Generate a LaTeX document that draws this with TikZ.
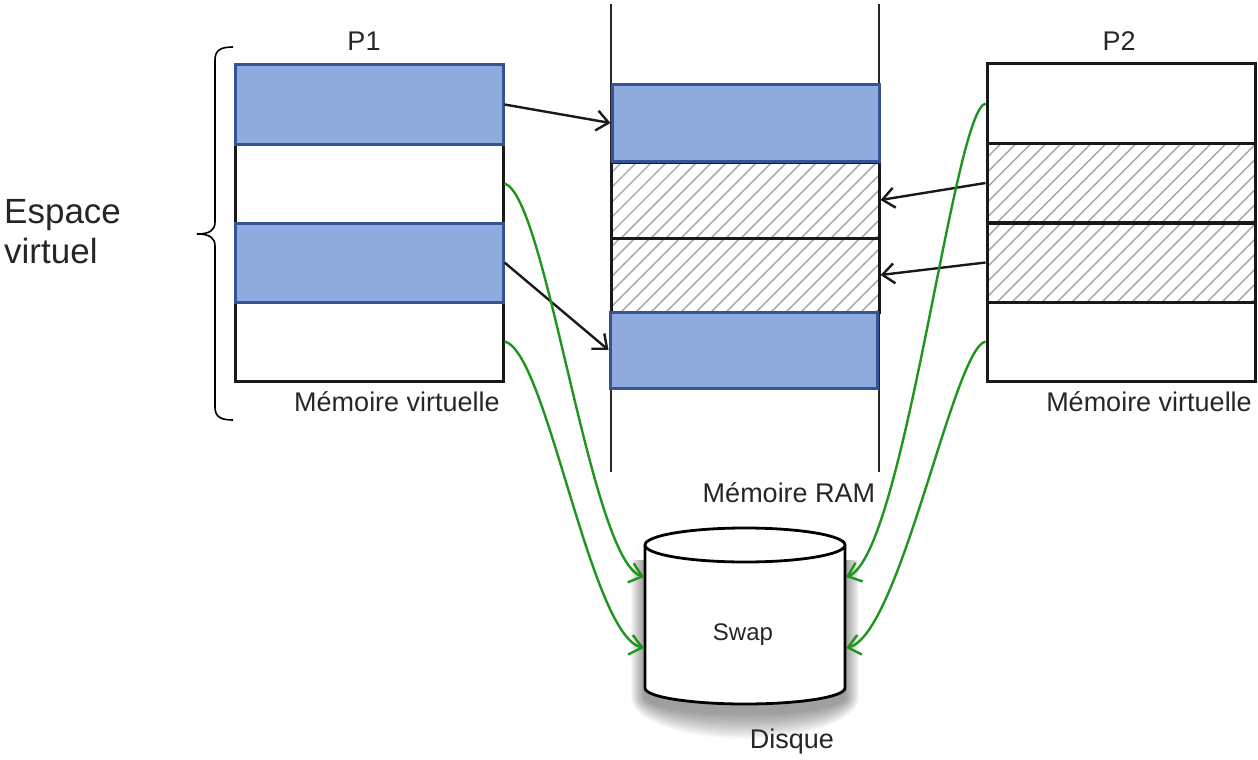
\documentclass[tikz,border=0pt]{standalone}
\usepackage{fontspec}
\setmainfont{Liberation Sans}
\usetikzlibrary{arrows.meta}
\definecolor{pagefill}{RGB}{143,170,220}
\definecolor{pageedge}{RGB}{52,84,150}
\definecolor{swapgreen}{RGB}{30,150,30}
\definecolor{hatchgray}{RGB}{165,165,165}

\begin{document}
\begin{tikzpicture}[x=1pt,y=-1pt,
  page/.style={rectangle, draw=black!90, line width=3pt, fill=white,
    minimum width=268pt, minimum height=79pt, inner sep=0pt},
  used/.style={page, fill=pagefill, draw=pageedge},
  hatched/.style={page, path picture={
    \foreach \k in {-110,-95,...,290}
      \draw[hatchgray, line width=1.4pt]
        ([xshift=\k pt]path picture bounding box.south west) -- ++(110pt,110pt);}},
  lbl/.style={font=\fontsize{27}{31}\selectfont, inner sep=0pt, text=black!85},
  maparrow/.style={line width=2.4pt, black!90,
    -{Straight Barb[length=12pt,width=20pt,line width=2.4pt]}},
  swaparrow/.style={maparrow, swapgreen},
  wall/.style={line width=2.8pt, black!85}]

\useasboundingbox (0,0) rectangle (1258,760);

% left brace grouping the virtual space
\draw[line width=1.6pt] (233,47) .. controls (221,47) and (215,50) .. (215,60)
  -- (215,222) .. controls (215,230) and (210,234) .. (197,234)
  .. controls (210,234) and (215,238) .. (215,246)
  -- (215,407) .. controls (215,417) and (221,420) .. (233,420);
\node[lbl, font=\fontsize{35}{40}\selectfont, anchor=base west] (esp1) at (4,223) {Espace};
\node[lbl, font=\fontsize{35}{40}\selectfont, anchor=base west] (esp2) at (4,263) {virtuel};

% process P1 virtual memory
\node[page] (p1b) at (369,183.5) {};
\node[page] (p1d) at (369,341.5) {};
\node[used] (p1a) at (369,104.5) {};
\node[used] (p1c) at (369,262.5) {};
\node[lbl, anchor=base] (p1lbl) at (364,51) {P1};
\node[lbl, anchor=base east] (p1mem) at (500,411) {Mémoire virtuelle};

% physical memory
\draw[wall] (611,4) -- (611,472);
\draw[wall] (879,4) -- (879,472);
\node[hatched, minimum height=76pt] (ramb) at (745,200) {};
\node[hatched, minimum height=74pt] (ramc) at (745,275) {};
\node[used, minimum width=267pt, minimum height=77pt] (rama) at (745.5,123) {};
\node[used, minimum width=267pt, minimum height=76pt] (ramd) at (743.5,350) {};
\node[lbl, anchor=base] (ramlbl) at (789,502) {Mémoire RAM};

% process P2 virtual memory
\node[page] (p2a) at (1121,103.5) {};
\node[hatched] (p2b) at (1121,183) {};
\node[hatched] (p2c) at (1121,262.5) {};
\node[page] (p2d) at (1121,341.5) {};
\node[lbl, anchor=base] (p2lbl) at (1119,51) {P2};
\node[lbl, anchor=base east] (p2mem) at (1252,411) {Mémoire virtuelle};

% swap disk with its soft shadow
\foreach \r in {1,...,20}
  \fill[black, opacity=0.022] (645-0.7*\r,560) -- (645-0.7*\r,697)
    arc[start angle=180, end angle=0, x radius=100+0.7*\r, y radius=16+1.3*\r]
    -- (845+0.7*\r,560) -- cycle;
\filldraw[fill=white, draw=black, line width=2.8pt] (645,545) -- (645,688)
  arc[start angle=180, end angle=0, x radius=100, y radius=16] -- (845,545);
\filldraw[fill=white, draw=black, line width=2.8pt] (745,545) ellipse [x radius=100, y radius=17];
\node[lbl, font=\fontsize{24}{28}\selectfont, anchor=base] (swap) at (743,640) {Swap};
\node[lbl, anchor=base] (disk) at (792,748) {Disque};
\coordinate (diskL1) at (644,577);
\coordinate (diskL2) at (644,648);
\coordinate (diskR1) at (846,577);
\coordinate (diskR2) at (846,648);

% page table mappings into RAM
\draw[maparrow] (p1a.east) -- (rama.west);
\draw[maparrow] (p1c.east) -- (ramd.west);
\draw[maparrow] (p2b.west) -- (ramb.east);
\draw[maparrow] (p2c.west) -- (ramc.east);

% pages sent to swap
\draw[swaparrow] (p1b.east) .. controls +(42,12) and +(-54,-17) .. (diskL1);
\draw[swaparrow] (p1d.east) .. controls +(42,9) and +(-54,-13) .. (diskL2);
\draw[swaparrow] (p2a.west) .. controls +(-32,7) and +(58,-22) .. (diskR1);
\draw[swaparrow] (p2d.west) .. controls +(-32,7) and +(54,-13) .. (diskR2);
\end{tikzpicture}
\end{document}
